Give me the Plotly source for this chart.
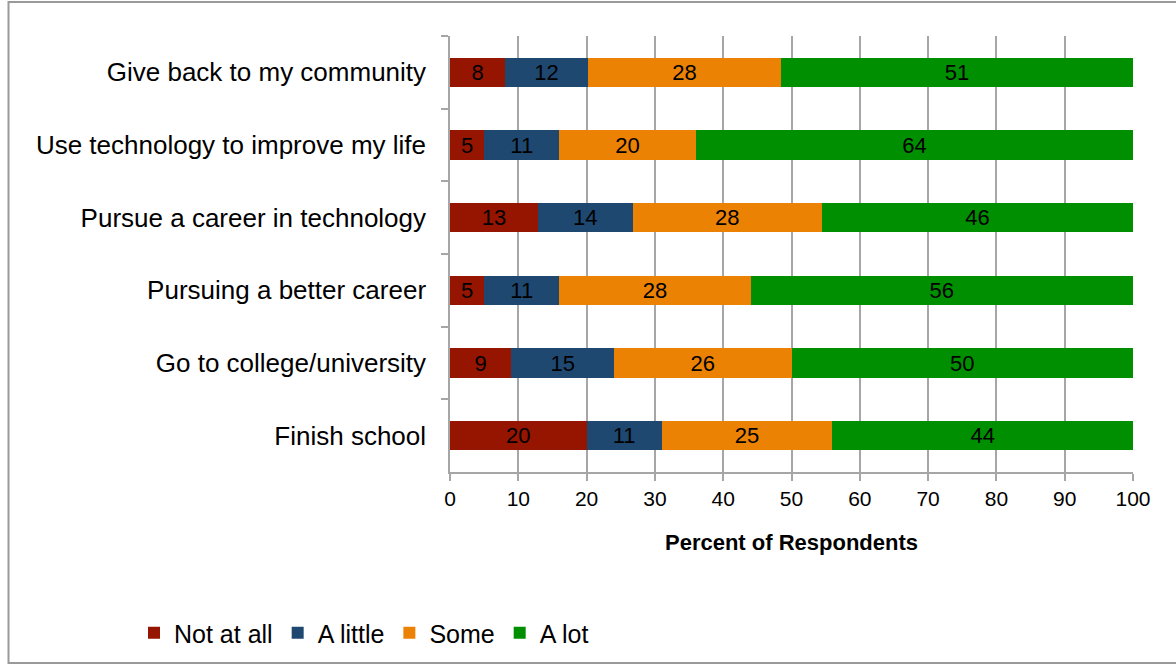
import plotly.graph_objects as go

# Survey items (top to bottom) and responses per level
categories = [
    "Give back to my community",
    "Use technology to improve my life",
    "Pursue a career in technology",
    "Pursuing a better career",
    "Go to college/university",
    "Finish school",
]
not_at_all = [8, 5, 13, 5, 9, 20]
a_little = [12, 11, 14, 11, 15, 11]
some = [28, 20, 28, 28, 26, 25]
a_lot = [51, 64, 46, 56, 50, 44]

series = [
    ("Not at all", not_at_all, "#951500"),
    ("A little", a_little, "#1F4871"),
    ("Some", some, "#EC8204"),
    ("A lot", a_lot, "#008F00"),
]
x_ticks = list(range(0, 101, 10))

W, H = 1176, 665
L, R, T, B = 450, 43, 36, 193
pw, ph = W - L - R, H - T - B

def px_x(p):
    return (p - L) / pw

def px_y(p):
    return (H - B - p) / ph

fig = go.Figure()
for name, vals, color in series:
    fig.add_trace(go.Bar(
        y=categories, x=vals, name=name, orientation="h",
        marker=dict(color=color, line=dict(width=0)),
        text=[str(v) for v in vals],
        textposition="inside", insidetextanchor="middle", textangle=0,
        constraintext="none",
        textfont=dict(color="black", size=22, family="Liberation Sans"),
        hoverinfo="skip",
    ))

fig.update_layout(
    width=W, height=H,
    margin=dict(l=L, r=R, t=T, b=B, autoexpand=False),
    barmode="stack", barnorm="percent", bargap=0.6,
    paper_bgcolor="white", plot_bgcolor="white",
    font=dict(family="Liberation Sans", color="black", size=20),
    uniformtext=dict(minsize=22, mode="show"),
    showlegend=True,
    legend=dict(
        orientation="h", x=px_x(134), xanchor="left", y=px_y(633), yanchor="middle",
        font=dict(size=25, family="Liberation Sans"),
        traceorder="normal", itemclick=False, itemdoubleclick=False,
    ),
    xaxis=dict(
        range=[0, 100], tickvals=x_ticks, ticktext=[str(t) for t in x_ticks],
        showgrid=True, gridcolor="#A6A6A6", gridwidth=1.5,
        showline=True, linecolor="#A6A6A6", linewidth=1.5,
        ticks="outside", ticklen=7, tickcolor="#A6A6A6", tickwidth=1.5,
        tickfont=dict(size=21), zeroline=False,
        title=dict(text="<b>Percent of Respondents</b>", font=dict(size=22), standoff=26),
    ),
    yaxis=dict(
        autorange="reversed", showgrid=False,
        showline=True, linecolor="#A6A6A6", linewidth=1.5,
        ticks="outside", ticklen=7, tickcolor="#A6A6A6", tickwidth=1.5,
        tickson="boundaries", tickfont=dict(size=26),
        ticklabelstandoff=17,
    ),
)

# Outer chart frame
fig.add_shape(
    type="rect", xref="paper", yref="paper",
    x0=px_x(8.5), x1=px_x(1185), y0=px_y(2), y1=px_y(663),
    line=dict(color="#9A9A9A", width=2), layer="below",
)

fig.write_html("out.html")
